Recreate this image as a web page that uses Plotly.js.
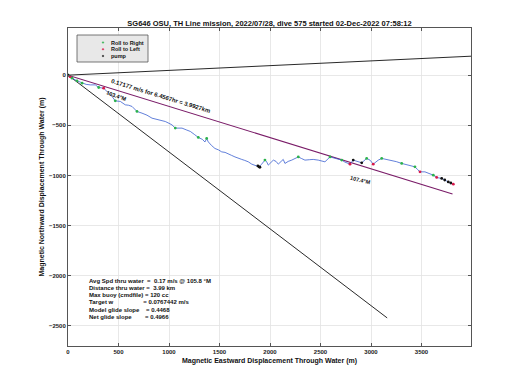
<!DOCTYPE html>
<html>
<head>
<meta charset="utf-8">
<script src="https://cdn.plot.ly/plotly-3.0.1.min.js"></script>
<style>html,body{margin:0;padding:0;background:#fff;}#chart{width:520px;height:390px;}</style>
</head>
<body>
<div id="chart"></div>
<script>
// ---- data ----
const trackX = [0,20,40,89,139,180,221,270,304,330,353,386,436,468,518,567,600,634,660,683,733,782,832,870,898,930,963,1000,1030,1062,1100,1129,1170,1211,1250,1290,1330,1356,1373,1389,1420,1455,1490,1522,1555,1587,1620,1653,1690,1720,1750,1785,1819,1860,1891,1915,1933,1950,1965,1983,2010,2033,2060,2082,2110,2131,2148,2180,2215,2250,2280,2310,2346,2390,2428,2478,2510,2544,2594,2630,2660,2710,2742,2792,2824,2861,2908,2957,2990,3022,3050,3072,3106,3150,3205,3250,3304,3369,3435,3460,3485,3534,3580,3617,3650,3700,3765,3815];
const trackY = [0,-15,-30,-57,-80,-92,-97,-97,-123,-128,-130,-163,-212,-256,-262,-296,-300,-312,-340,-362,-379,-399,-429,-440,-446,-450,-462,-480,-496,-528,-528,-528,-545,-561,-590,-621,-640,-666,-631,-665,-700,-731,-745,-765,-770,-781,-800,-815,-825,-840,-850,-864,-887,-900,-914,-890,-864,-847,-860,-897,-870,-847,-860,-887,-860,-840,-880,-860,-847,-830,-815,-830,-847,-843,-840,-847,-855,-864,-815,-825,-830,-847,-867,-887,-847,-857,-874,-830,-847,-887,-860,-847,-830,-840,-847,-862,-880,-897,-914,-940,-964,-964,-980,-997,-1020,-1030,-1064,-1087];

const rollRightX = [0,40,89,139,304,468,683,1062,1290,1373,1950,2280,2594,2710,2957,3106,3304,3435,3617];
const rollRightY = [0,-30,-57,-80,-123,-256,-362,-528,-621,-631,-847,-815,-815,-847,-830,-830,-880,-914,-997];
const rollLeftX = [20,353,2792,3022,3485,3650,3815];
const rollLeftY = [-15,-130,-887,-887,-964,-1020,-1087];
const pumpX = [0,1880,1891,1900,2824,2908,3700,3730,3765,3790];
const pumpY = [0,-905,-914,-918,-847,-874,-1030,-1045,-1064,-1075];

// reference lines (start / end points)
const upperLineX = [0,3990];
const upperLineY = [0,189];
const lowerLineX = [0,3160];
const lowerLineY = [0,-2420];
const netLineX = [0,3807];
const netLineY = [0,-1185];

const titleText = 'SG646 OSU, TH Line mission, 2022/07/28, dive 575 started 02-Dec-2022 07:58:12';
const xTitle = 'Magnetic Eastward Displacement Through Water (m)';
const yTitle = 'Magnetic Northward Displacement Through Water (m)';
const legendLabels = ['Roll to Right','Roll to Left','pump'];
const legendColors = ['#2bb24c','#d8174a','#111111'];
const netLabel = '0.17177 m/s for 6.4567hr = 3.9927km';
const headingLabelA = '103.4°M';
const headingLabelB = '107.4°M';
const statsLines = [
  'Avg Spd thru water  =  0.17 m/s @ 105.8 °M',
  'Distance thru water =  3.99 km',
  'Max buoy (cmdfile) = 120 cc',
  'Target w                  = 0.0767442 m/s',
  'Model glide slope    = 0.4468',
  'Net glide slope        = 0.4966'
];

// ---- layout geometry ----
const W = 520, H = 390;
const M = {l:68, r:49, t:28, b:44};
const PW = W - M.l - M.r, PH = H - M.t - M.b;
const px2x = p => (p - M.l) / PW;
const py2y = p => (H - M.b - p) / PH;
const FONT = '"Liberation Sans", Arial, sans-serif';
const nb = s => s.replace(/ /g, '\u00a0');

const traces = [
  {x: upperLineX, y: upperLineY, mode:'lines', line:{color:'#111', width:0.9}, hoverinfo:'skip'},
  {x: lowerLineX, y: lowerLineY, mode:'lines', line:{color:'#111', width:0.9}, hoverinfo:'skip'},
  {x: netLineX, y: netLineY, mode:'lines', line:{color:'#7a1c68', width:1.05}, hoverinfo:'skip'},
  {x: trackX, y: trackY, mode:'lines', line:{color:'#3a5fd0', width:0.8}},
  {x: rollRightX, y: rollRightY, mode:'markers', marker:{color:legendColors[0], size:2.8}, name:legendLabels[0]},
  {x: rollLeftX, y: rollLeftY, mode:'markers', marker:{color:legendColors[1], size:2.8}, name:legendLabels[1]},
  {x: pumpX, y: pumpY, mode:'markers', marker:{color:legendColors[2], size:2.8}, name:legendLabels[2]}
];

const annotations = [];
const shapes = [];

// legend box
shapes.push({type:'rect', xref:'paper', yref:'paper', x0:px2x(77), x1:px2x(148), y0:py2y(62), y1:py2y(35),
  fillcolor:'#e8e8e8', line:{color:'#555', width:0.8}, layer:'above'});
const legRows = [42.5, 49.3, 56];
legendLabels.forEach((lab, i) => {
  const cy = legRows[i];
  shapes.push({type:'circle', xref:'paper', yref:'paper', x0:px2x(102.2), x1:px2x(103.8), y0:py2y(cy+0.8), y1:py2y(cy-0.8),
    fillcolor:legendColors[i], line:{color:legendColors[i], width:0.4}, layer:'above'});
  annotations.push({xref:'paper', yref:'paper', x:px2x(109), y:py2y(cy), xanchor:'left', yanchor:'middle',
    text:lab, showarrow:false, font:{family:FONT, size:5.5, color:'#111', weight:'bold'}});
});

// rotated labels
annotations.push({x:916, y:-212, text:netLabel, showarrow:false, textangle:17,
  font:{family:FONT, size:6, color:'#111', weight:'bold'}});
annotations.push({x:485, y:-207, text:headingLabelA, showarrow:false, textangle:20,
  font:{family:FONT, size:5.5, color:'#111', weight:'bold'}});
annotations.push({x:2893, y:-1041, text:headingLabelB, showarrow:false, textangle:14,
  font:{family:FONT, size:5.5, color:'#111', weight:'bold'}});

// stats block
statsLines.forEach((s, i) => {
  annotations.push({xref:'paper', yref:'paper', x:px2x(87), y:py2y(280.7 + i*7.2), xanchor:'left', yanchor:'middle',
    text:nb(s), showarrow:false, align:'left', font:{family:FONT, size:6, color:'#111', weight:'bold'}});
});

const axisCommon = {
  dtick:500, tick0:0, showgrid:true, gridcolor:'#e2e2e2', gridwidth:0.8, zeroline:false,
  showline:true, linecolor:'#555', linewidth:1, mirror:'ticks', ticks:'inside', ticklen:3, tickcolor:'#555',
  tickfont:{family:FONT, size:6, color:'#222', weight:'bold'}, fixedrange:true
};

const layout = {
  width:W, height:H, margin:M, showlegend:false,
  paper_bgcolor:'#fff', plot_bgcolor:'#fff',
  title:{text:titleText, x:0.5, xref:'paper', y:1-23.5/H, yanchor:'middle',
    font:{family:FONT, size:7.5, color:'#111', weight:'bold'}},
  xaxis:Object.assign({}, axisCommon, {range:[0,3990],
    title:{text:xTitle, standoff:3, font:{family:FONT, size:7, color:'#111', weight:'bold'}}}),
  yaxis:Object.assign({}, axisCommon, {range:[-2700,470],
    title:{text:yTitle, standoff:3, font:{family:FONT, size:7, color:'#111', weight:'bold'}}}),
  annotations:annotations, shapes:shapes
};

Plotly.newPlot('chart', traces, layout, {staticPlot:true, displayModeBar:false});
</script>
</body>
</html>
